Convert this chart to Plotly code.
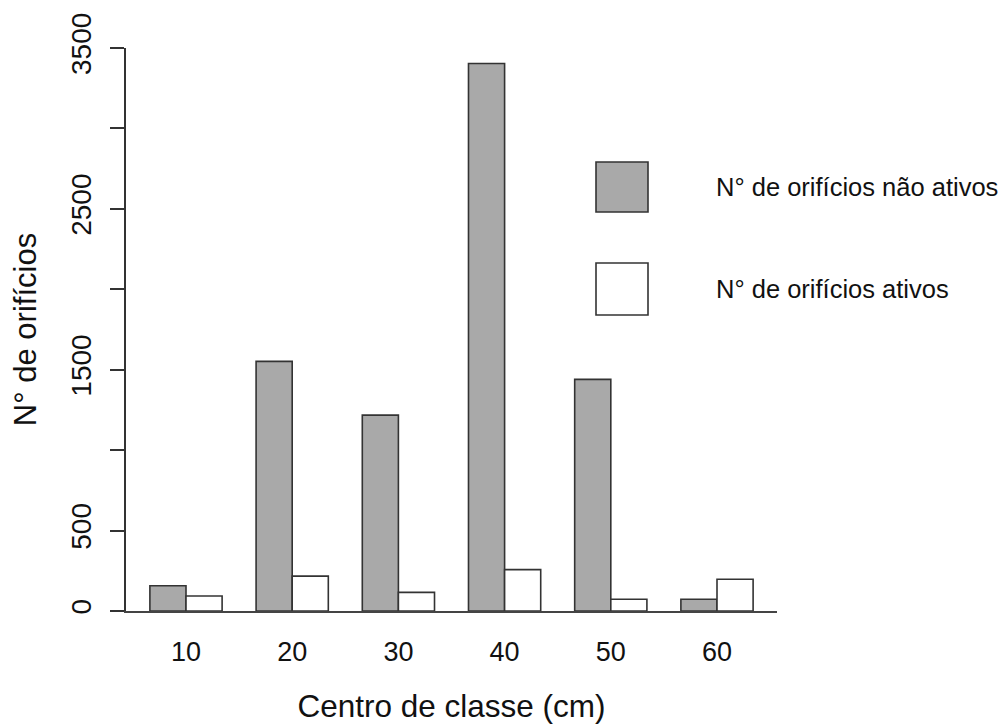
import plotly.graph_objects as go

# Data
categories = ["10", "20", "30", "40", "50", "60"]
nao_ativos = [157, 1552, 1218, 3404, 1440, 73]
ativos = [93, 217, 116, 257, 73, 197]
series_names = ["N° de orifícios não ativos", "N° de orifícios ativos"]
y_tickvals = [0, 500, 1000, 1500, 2000, 2500, 3000, 3500]
y_ticktext = ["0", "500", "", "1500", "", "2500", "", "3500"]

OFF = 8  # page body margin
W, H = 1007 - OFF, 724 - OFF
L, R, T, B = 126, 777, 48, 611  # plot area in window pixels
FONT = "Liberation Sans, Arial, sans-serif"


def px_x(x):
    return (x - L) / (R - L)


def px_y(y):
    return (B - y) / (B - T)


fig = go.Figure()
fig.add_trace(go.Bar(x=categories, y=nao_ativos, name=series_names[0],
                     marker=dict(color="#a9a9a9", line=dict(color="#333333", width=1.6))))
fig.add_trace(go.Bar(x=categories, y=ativos, name=series_names[1],
                     marker=dict(color="#ffffff", line=dict(color="#333333", width=1.6))))

shapes = []
annotations = []
legend_boxes = [(162, 212, "#a9a9a9"), (263, 315, "#ffffff")]
for (y0, y1, col), name in zip(legend_boxes, series_names):
    shapes.append(dict(type="rect", xref="paper", yref="paper",
                       x0=px_x(596), x1=px_x(648), y0=px_y(y1), y1=px_y(y0),
                       fillcolor=col, line=dict(color="#333333", width=1.6)))
    annotations.append(dict(xref="paper", yref="paper", x=px_x(714), y=px_y((y0 + y1) / 2),
                            text=name, showarrow=False, xanchor="left", yanchor="middle",
                            font=dict(family=FONT, size=25.5, color="#111111")))

fig.update_layout(
    width=W, height=H,
    margin=dict(l=L - OFF, r=W + OFF - R, t=T - OFF, b=H + OFF - B),
    paper_bgcolor="white", plot_bgcolor="white",
    barmode="group", bargap=0.32, bargroupgap=0,
    showlegend=False,
    font=dict(family=FONT, color="#111111"),
    shapes=shapes, annotations=annotations,
    xaxis=dict(type="category", range=[-0.565, 5.565], showline=True, linecolor="#444444",
               linewidth=2, ticks="", showgrid=False, zeroline=False, automargin=False,
               tickfont=dict(size=27, family=FONT), ticklabelstandoff=16,
               title=dict(text="Centro de classe (cm)", font=dict(size=31.5, family=FONT), standoff=32)),
    yaxis=dict(range=[0, 3500], tickvals=y_tickvals, ticktext=y_ticktext, showline=True,
               linecolor="#333333", linewidth=1.6, ticks="outside", ticklen=14, tickwidth=1.6,
               tickcolor="#333333", tickangle=-90, showgrid=False, zeroline=False, automargin=False,
               tickfont=dict(size=28, family=FONT), ticklabelstandoff=8,
               title=dict(text="N° de orifícios", font=dict(size=31, family=FONT), standoff=20)),
)

fig.write_html("out.html")
